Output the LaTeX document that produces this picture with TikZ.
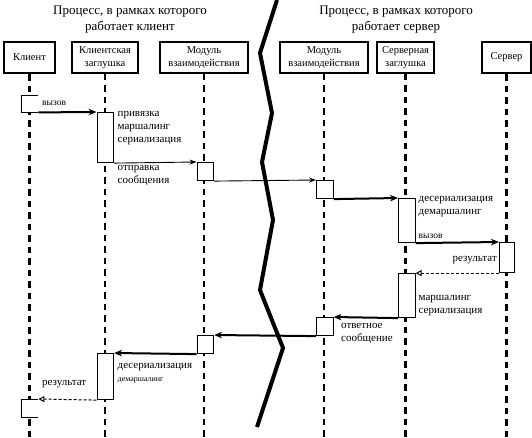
\documentclass[tikz,border=0pt]{standalone}
\usepackage{fontspec}
\setmainfont{Liberation Serif}
\newfontfamily\tms{Liberation Serif}
\usetikzlibrary{arrows.meta}
\begin{document}
\begin{tikzpicture}[x=1pt,y=-1pt,
  titletext/.style={inner sep=0pt, align=center, font=\tms\fontsize{13}{16}\selectfont},
  hdr/.style={draw, line width=1.1pt, fill=white, inner sep=0pt, align=center,
    font=\tms\fontsize{10.5}{12.5}\selectfont, minimum height=31pt},
  actor/.style={hdr, line width=2.3pt},
  life/.style={line width=2.2pt, dash pattern=on 6.5pt off 5pt},
  act/.style={draw, line width=1.1pt, fill=white, inner sep=0pt, minimum width=16.5pt, anchor=north west},
  openact/.style={inner sep=0pt, fill=white, minimum width=17pt, minimum height=17pt, anchor=north west},
  bigmsg/.style={line width=2pt, -{Stealth[length=8pt,width=6.5pt]}},
  smallmsg/.style={line width=0.9pt, -{Stealth[length=7pt,width=5pt]}},
  retmsg/.style={line width=1pt, dash pattern=on 3pt off 2pt, -{Triangle[open,length=6pt,width=6pt]}},
  lbl/.style={inner sep=0pt, align=left, anchor=west, font=\tms\fontsize{11}{13}\selectfont},
  slbl/.style={inner sep=0pt, anchor=west, font=\tms\fontsize{9.5}{11}\selectfont},
]
\useasboundingbox (0,0) rectangle (532,437);
\coordinate (bot) at (0,437);

% titles
\node[titletext] (tleft) at (130,20) {Процесс, в рамках которого\\работает клиент};
\node[titletext] (tright) at (396,20) {Процесс, в рамках которого\\работает сервер};

% headers
\node[actor, minimum width=51pt] (client) at (29.5,57.5) {Клиент};
\node[hdr, minimum width=66pt] (cstub) at (105,57.5) {Клиентская\\заглушка};
\node[hdr, minimum width=88pt] (cmod) at (204,57.5) {Модуль\\взаимодействия};
\node[hdr, minimum width=88pt] (smod) at (324,57.5) {Модуль\\взаимодействия};
\node[hdr, minimum width=57pt] (sstub) at (405.5,57.5) {Серверная\\заглушка};
\node[actor, minimum width=49pt] (server) at (506.5,57.5) {Сервер};

% lifelines
\coordinate (clientEnd) at (client.south |- bot);
\coordinate (cstubEnd) at (cstub.south |- bot);
\coordinate (cmodEnd) at (cmod.south |- bot);
\coordinate (smodEnd) at (smod.south |- bot);
\coordinate (sstubEnd) at (sstub.south |- bot);
\coordinate (serverEnd) at (server.south |- bot);
\draw[life] (client.south) -- (clientEnd);
\draw[life] (cstub.south) -- (cstubEnd);
\draw[life] (cmod.south) -- (cmodEnd);
\draw[life] (smod.south) -- (smodEnd);
\draw[life] (sstub.south) -- (sstubEnd);
\draw[life] (server.south) -- (serverEnd);

% activations
\node[openact] (ca1) at (21,95) {};
\draw[line width=1pt] (ca1.north east) -- (ca1.north west) -- (ca1.south west) -- (ca1.south east);
\node[act, minimum height=50pt] (sa1) at (96.5,112) {};
\node[act, minimum height=18pt] (ma1) at (196.5,162) {};
\node[act, minimum height=18pt] (ra1) at (316,180) {};
\node[act, minimum height=44pt] (ta1) at (398,198) {};
\node[act, minimum width=15pt, minimum height=30pt] (sv1) at (499,242) {};
\node[act, minimum height=44pt] (ta2) at (398,273) {};
\node[act, minimum height=18pt] (ra2) at (316,317) {};
\node[act, minimum height=18pt] (ma2) at (196.5,335) {};
\node[act, minimum height=46pt] (sa2) at (96.5,353) {};
\node[openact, minimum height=18pt] (ca2) at (21,399) {};
\draw[line width=1pt] (ca2.north east) -- (ca2.north west) -- (ca2.south west) -- (ca2.south east);

% messages
\draw[bigmsg] (ca1.south east) -- (sa1.north west);
\draw[smallmsg] (sa1.south east) -- (ma1.north west);
\draw[smallmsg] (ma1.south east) -- (ra1.north west);
\draw[bigmsg] (ra1.south east) -- (ta1.north west);
\draw[bigmsg] (ta1.south east) -- (sv1.north west);
\draw[retmsg] (sv1.south west) -- (sv1.south west -| ta2.north east) coordinate (retEnd);
\draw[bigmsg] (ta2.south west) -- (ra2.north east);
\draw[bigmsg] (ra2.south west) -- (ma2.north east);
\draw[bigmsg] (ma2.south west) -- (sa2.north east);
\draw[retmsg] (sa2.south west) -- (ca2.north east);

% labels
\node[slbl] (l1) at (42,103) {вызов};
\node[lbl] (l2) at (117.5,128.5) {привязка\\маршалинг\\сериализация};
\node[lbl] (l3) at (117.5,176) {отправка\\сообщения};
\node[lbl] (l4) at (418.5,206.5) {десериализация\\демаршалинг};
\node[slbl] (l5) at (418.5,236) {вызов};
\node[lbl, anchor=east] (l6) at (497,260) {результат};
\node[lbl] (l7) at (418.5,305.5) {маршалинг\\сериализация};
\node[lbl] (l8) at (341,333.5) {ответное\\сообщение};
\node[lbl] (l9) at (117.5,367) {десериализация};
\node[inner sep=0pt, anchor=west, font=\tms\fontsize{8}{9}\selectfont] (l10) at (117.5,380) {демаршалинг};
\node[lbl] (l11) at (42,384) {результат};

% process boundary
\draw[line width=4pt, line join=round] (277,0) -- (260,53) -- (272,113) -- (262,162)
  -- (273,220) -- (260,290) -- (283,348) -- (257,427);
\end{tikzpicture}
\end{document}
